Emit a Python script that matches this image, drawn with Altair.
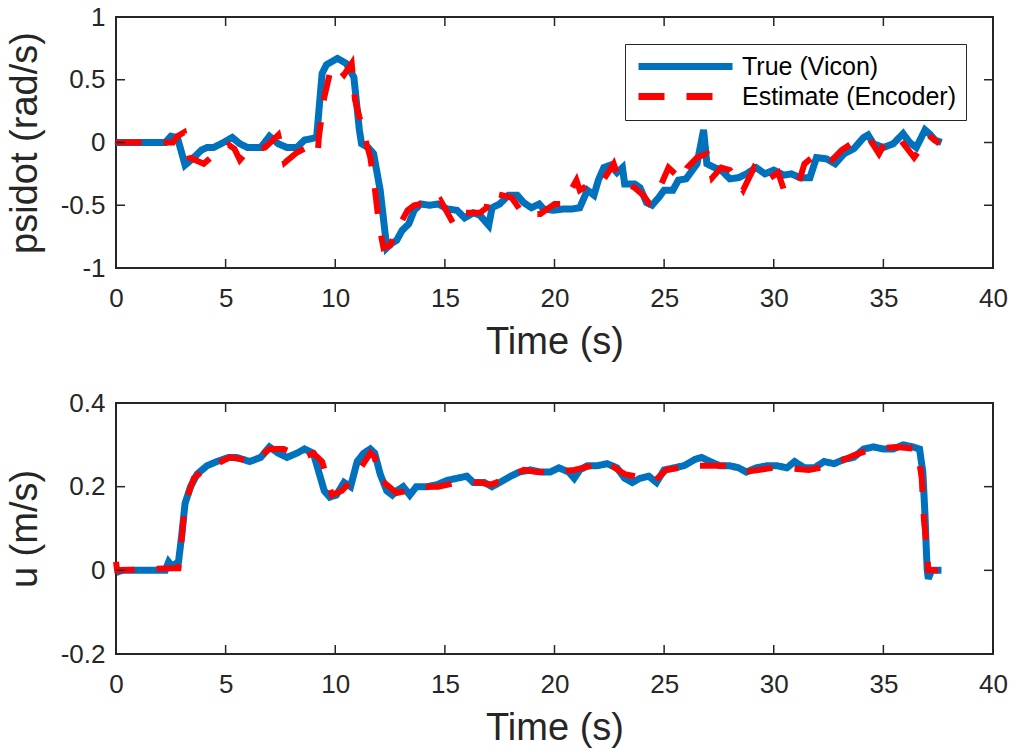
import altair as alt
import pandas as pd

# ---- yaw rate (psidot) ----
t_psi_true = [0, 2.25, 2.5, 2.8, 3.15, 3.55, 3.9, 4.15, 4.45, 4.9, 5.3, 5.65, 6.0, 6.6, 7.0, 7.4,
              7.8, 8.25, 8.6, 8.9, 9.15, 9.4, 9.6, 10.1, 10.5, 10.85, 11.1, 11.2, 11.5, 11.75, 12.05,
              12.35, 12.6, 12.8, 13.05, 13.35, 13.6, 13.9, 14.3, 14.7, 15.1, 15.55, 15.9, 16.3, 16.6,
              17.0, 17.15, 17.5, 17.9, 18.3, 18.6, 18.95, 19.3, 19.5, 19.95, 20.4, 20.8, 21.15, 21.5,
              21.8, 22.0, 22.25, 22.55, 22.85, 23.1, 23.2, 23.65, 23.9, 24.2, 24.45, 24.75, 25.0, 25.4,
              25.65, 26.0, 26.5, 26.8, 26.95, 27.3, 27.6, 28.0, 28.4, 28.75, 29.2, 29.6, 30.0, 30.45,
              30.8, 31.2, 31.65, 31.95, 32.4, 32.8, 33.2, 33.65, 34.1, 34.3, 34.55, 35.0, 35.45, 35.9,
              36.2, 36.5, 36.9, 37.1, 37.35, 37.65]
psi_true = [0, 0, 0.05, 0.04, -0.18, -0.12, -0.06, -0.04, -0.04, 0.0, 0.04, -0.01, -0.04, -0.04, 0.05,
            -0.01, -0.04, -0.04, 0.02, 0.03, 0.04, 0.55, 0.62, 0.67, 0.63, 0.52, 0.1, -0.01, -0.04,
            -0.09, -0.38, -0.84, -0.8, -0.78, -0.70, -0.65, -0.54, -0.49, -0.50, -0.49, -0.53, -0.54,
            -0.60, -0.56, -0.58, -0.66, -0.52, -0.49, -0.42, -0.42, -0.48, -0.52, -0.49, -0.53, -0.54,
            -0.53, -0.53, -0.52, -0.38, -0.42, -0.30, -0.20, -0.18, -0.24, -0.20, -0.33, -0.33, -0.36,
            -0.48, -0.50, -0.44, -0.38, -0.38, -0.30, -0.29, -0.17, 0.10, -0.17, -0.20, -0.22, -0.29,
            -0.28, -0.25, -0.20, -0.25, -0.22, -0.26, -0.25, -0.28, -0.28, -0.12, -0.13, -0.17, -0.09,
            -0.05, 0.04, 0.06, -0.01, -0.04, -0.01, 0.07, 0.0, -0.04, 0.10, 0.07, 0.02, 0.0]

t_psi_est = [0, 0.1, 2.6, 2.8, 3.1, 3.35, 4.0, 4.45, 4.7, 5.15, 5.4, 5.65, 6.1, 6.5, 6.8, 7.4, 7.55,
             7.7, 8.25, 8.6, 8.9, 9.2, 9.25, 9.5, 9.75, 10.0, 10.4, 10.75, 10.9, 11.3, 11.6, 11.8, 12.0,
             12.2, 12.5, 12.8, 13.3, 13.6, 13.9, 14.3, 14.8, 15.4, 15.6, 16.6, 16.9, 17.0, 17.6, 18.05,
             18.6, 19.0, 19.35, 20.0, 20.4, 21.0, 21.15, 21.7, 22.15, 22.7, 22.95, 23.65, 24.05, 24.3,
             24.75, 25.2, 25.8, 26.05, 26.5, 26.95, 27.2, 27.6, 28.0, 28.6, 29.1, 29.7, 30.2, 30.45,
             31.05, 31.4, 31.95, 32.65, 33.1, 33.8, 34.4, 34.8, 35.05, 35.7, 36.4, 36.85, 37.05, 37.55]
psi_est = [0.01, 0, 0, 0.05, 0.08, -0.12, -0.17, -0.10, -0.09, -0.02, -0.05, -0.14, -0.05, -0.05,
           -0.04, 0.06, -0.05, -0.16, -0.08, -0.05, -0.08, -0.10, 0.04, 0.36, 0.55, 0.62, 0.54, 0.63,
           0.34, 0.07, -0.12, -0.36, -0.66, -0.84, -0.82, -0.70, -0.54, -0.50, -0.49, -0.52, -0.46,
           -0.65, -0.56, -0.56, -0.52, -0.40, -0.42, -0.44, -0.58, -0.57, -0.57, -0.49, -0.49, -0.30,
           -0.38, -0.32, -0.32, -0.17, -0.30, -0.36, -0.42, -0.48, -0.38, -0.20, -0.30, -0.20, -0.12,
           -0.09, -0.28, -0.20, -0.22, -0.38, -0.20, -0.30, -0.24, -0.37, -0.37, -0.17, -0.09, -0.14,
           -0.06, 0.02, 0.02, -0.09, -0.01, 0.04, -0.12, -0.01, 0.06, -0.01]

# ---- forward speed (u) ----
t_u_true = [0, 0.3, 2.25, 2.4, 2.55, 2.85, 3.0, 3.15, 3.4, 3.7, 4.15, 4.6, 5.15, 5.5, 6.1, 6.6, 7.0,
            7.4, 7.8, 8.25, 8.6, 9.0, 9.25, 9.5, 9.75, 10.05, 10.4, 10.7, 11.0, 11.3, 11.6, 11.8,
            12.05, 12.35, 12.6, 12.8, 13.1, 13.4, 13.7, 14.2, 14.65, 15.1, 15.55, 16.0, 16.3, 16.8,
            17.15, 17.5, 18.0, 18.4, 18.9, 19.35, 19.8, 20.2, 20.65, 20.9, 21.15, 21.5, 21.95, 22.4,
            22.85, 23.2, 23.55, 23.9, 24.3, 24.65, 25.0, 25.45, 25.9, 26.4, 26.7, 27.1, 27.55, 28.0,
            28.4, 28.75, 29.2, 29.7, 30.15, 30.6, 30.95, 31.4, 31.85, 32.3, 32.75, 33.2, 33.65, 34.1,
            34.55, 35.0, 35.45, 35.9, 36.35, 36.65, 36.8, 36.9, 36.95, 37.0, 37.05, 37.2, 37.65]
u_true = [-0.005, 0, 0, 0.02, 0.01, 0.02, 0.085, 0.16, 0.20, 0.23, 0.25, 0.26, 0.27, 0.27, 0.26, 0.27,
          0.295, 0.28, 0.27, 0.28, 0.29, 0.28, 0.235, 0.19, 0.175, 0.18, 0.21, 0.20, 0.26, 0.28, 0.29,
          0.28, 0.23, 0.19, 0.18, 0.19, 0.20, 0.18, 0.20, 0.20, 0.205, 0.215, 0.22, 0.225, 0.21, 0.21,
          0.20, 0.21, 0.225, 0.235, 0.24, 0.235, 0.235, 0.245, 0.235, 0.22, 0.24, 0.25, 0.25, 0.255,
          0.245, 0.22, 0.21, 0.22, 0.225, 0.21, 0.24, 0.245, 0.25, 0.265, 0.27, 0.26, 0.25, 0.25,
          0.245, 0.235, 0.245, 0.25, 0.25, 0.245, 0.26, 0.245, 0.245, 0.26, 0.255, 0.265, 0.27, 0.29,
          0.295, 0.29, 0.29, 0.30, 0.295, 0.29, 0.235, 0.13, 0.06, 0.0, -0.02, 0.0, 0.0]

t_u_est = [0, 0.05, 2.55, 2.85, 2.95, 3.15, 3.55, 4.0, 4.4, 5.2, 5.8, 6.3, 7.0, 7.65, 8.55, 9.0, 9.4,
           9.85, 10.3, 10.85, 11.6, 11.8, 12.0, 12.8, 13.3, 13.8, 14.7, 15.6, 16.6, 17.1, 17.6, 18.6,
           19.2, 19.8, 20.9, 21.7, 22.2, 22.6, 23.2, 24.6, 25.1, 26.3, 26.9, 27.9, 28.65, 29.95, 30.5,
           31.6, 32.6, 33.65, 34.5, 35.6, 36.55, 36.75, 36.85, 36.95, 37.05, 37.5]
u_est = [0.02, 0, 0.005, 0.005, 0.05, 0.16, 0.22, 0.24, 0.25, 0.27, 0.265, 0.26, 0.29, 0.29, 0.27,
         0.28, 0.26, 0.18, 0.19, 0.22, 0.28, 0.27, 0.22, 0.185, 0.19, 0.20, 0.20, 0.21, 0.21, 0.205,
         0.215, 0.24, 0.235, 0.235, 0.24, 0.25, 0.26, 0.25, 0.23, 0.215, 0.24, 0.25, 0.25, 0.25,
         0.235, 0.245, 0.245, 0.24, 0.25, 0.275, 0.29, 0.295, 0.29, 0.22, 0.12, 0.07, 0.0, 0.0]

SERIES = ["True (Vicon)", "Estimate (Encoder)"]
X_TICKS = [0, 5, 10, 15, 20, 25, 30, 35, 40]
PSI_TICKS = [-1, -0.5, 0, 0.5, 1]
U_TICKS = [-0.2, 0, 0.2, 0.4]

BLUE = "#0072BD"
RED = "#FF0000"
INK = "#262626"
FONT = "Liberation Sans"
W, H = 877, 251
TICK = 9


def frame(t, v, name):
    return pd.DataFrame({"t": t, "v": v, "series": name})


def panel(true_df, est_df, y_ticks, y_dom, y_title, show_legend):
    xs = alt.Scale(domain=[0, 40], nice=False, zero=False)
    ys = alt.Scale(domain=y_dom, nice=False, zero=False)
    x_axis = alt.Axis(values=X_TICKS, title="Time (s)", labelPadding=17, titlePadding=12,
                      labelFlush=False)
    y_axis = alt.Axis(values=y_ticks, title=y_title, labelPadding=11, titlePadding=16,
                      labelFlush=False, labelExpr="'' + datum.value")
    legend = alt.Legend(
        title=None, orient="top-right", offset=27, padding=10,
        symbolType="stroke", symbolSize=94 * 94, symbolStrokeWidth=7, labelOffset=6,
        labelFont=FONT, labelFontSize=25, labelColor="#000000", labelLimit=0,
        clipHeight=25, rowPadding=4,
        strokeColor=INK, fillColor="white",
    ) if show_legend else None
    color = alt.Color("series:N", scale=alt.Scale(domain=SERIES, range=[BLUE, RED]), legend=legend)
    dash = alt.StrokeDash("series:N", scale=alt.Scale(domain=SERIES, range=[[1, 0], [26, 22]]),
                          legend=legend)

    true_line = alt.Chart(true_df).mark_line(strokeWidth=7, strokeJoin="miter").encode(
        x=alt.X("t:Q", scale=xs, axis=x_axis),
        y=alt.Y("v:Q", scale=ys, axis=y_axis),
        color=color, strokeDash=dash,
    )
    est_line = alt.Chart(est_df).mark_line(strokeWidth=6, strokeJoin="miter").encode(
        x=alt.X("t:Q", scale=xs), y=alt.Y("v:Q", scale=ys),
        color=color, strokeDash=dash,
    )

    xt = pd.DataFrame({"x": X_TICKS})
    yt = pd.DataFrame({"y": y_ticks})
    rule = dict(color=INK, strokeWidth=1.5)
    ticks = [
        alt.Chart(xt).mark_rule(**rule).encode(x=alt.X("x:Q", scale=xs),
                                               y=alt.value(H), y2=alt.value(H - TICK)),
        alt.Chart(xt).mark_rule(**rule).encode(x=alt.X("x:Q", scale=xs),
                                               y=alt.value(0), y2=alt.value(TICK)),
        alt.Chart(yt).mark_rule(**rule).encode(y=alt.Y("y:Q", scale=ys),
                                               x=alt.value(0), x2=alt.value(TICK)),
        alt.Chart(yt).mark_rule(**rule).encode(y=alt.Y("y:Q", scale=ys),
                                               x=alt.value(W), x2=alt.value(W - TICK)),
    ]
    return alt.layer(true_line, est_line, *ticks).properties(width=W, height=H)


top = panel(
    frame(t_psi_true, psi_true, SERIES[0]),
    frame(t_psi_est, psi_est, SERIES[1]),
    PSI_TICKS, [-1, 1], "psidot (rad/s)", True,
)
bottom = panel(
    frame(t_u_true, u_true, SERIES[0]),
    frame(t_u_est, u_est, SERIES[1]),
    U_TICKS, [-0.2, 0.4], "u (m/s)", False,
)

chart = alt.vconcat(top, bottom, spacing=135, bounds="flush").resolve_scale(
    color="independent", strokeDash="independent"
).properties(
    padding={"left": 5, "top": 3, "right": 0, "bottom": 0},
    background="white",
).configure_view(
    stroke=INK, strokeWidth=2
).configure_axis(
    grid=False, domain=False, ticks=False,
    labelFont=FONT, labelFontSize=26, labelColor=INK,
    titleFont=FONT, titleFontSize=38, titleColor=INK, titleFontWeight="normal",
)

chart.save("out.html", embed_options={"renderer": "svg", "actions": False})
